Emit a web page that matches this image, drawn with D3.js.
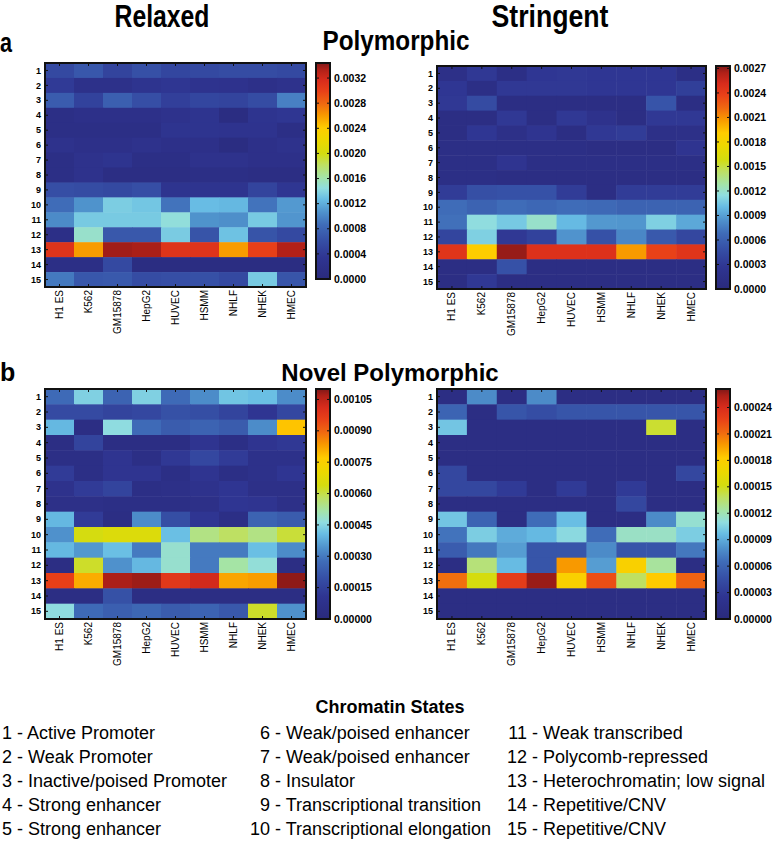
<!DOCTYPE html>
<html>
<head>
<meta charset="utf-8">
<script src="https://cdnjs.cloudflare.com/ajax/libs/d3/7.8.5/d3.min.js"></script>
<style>
  body { margin: 0; background: #fff; }
  svg { display: block; font-family: "Liberation Sans", Arial, sans-serif; }
</style>
</head>
<body>
<svg id="chart" width="778" height="853"></svg>
<script>
var cellLines = ["H1 ES", "K562", "GM15878", "HepG2", "HUVEC", "HSMM", "NHLF", "NHEK", "HMEC"];
var states = ["1", "2", "3", "4", "5", "6", "7", "8", "9", "10", "11", "12", "13", "14", "15"];

// a - Polymorphic, Relaxed
var relaxedPoly = [
  [0.00055, 0.00068, 0.0005, 0.00062, 0.00052, 0.00055, 0.00058, 0.00058, 0.00055],
  [0.0004, 0.00022, 0.00022, 0.0003, 0.00035, 0.00028, 0.00026, 0.0002, 0.00025],
  [0.00072, 0.00048, 0.00075, 0.0006, 0.00045, 0.00052, 0.0005, 0.00058, 0.00097],
  [0.00015, 0.0002, 0.0002, 0.0002, 0.00025, 0.0003, 0.0001, 0.0003, 0.00035],
  [0.00015, 0.00015, 0.00015, 0.00015, 0.0003, 0.0003, 0.00028, 0.00028, 0.00015],
  [0.00025, 0.0002, 0.0002, 0.00025, 0.0002, 0.0002, 0.0001, 0.0002, 0.00025],
  [0.00015, 0.00025, 0.0003, 0.00015, 0.00015, 0.00025, 0.00025, 0.0002, 0.0002],
  [0.00015, 0.00025, 0.00012, 0.00012, 0.00012, 0.00015, 0.00015, 0.00012, 0.00012],
  [0.0006, 0.00058, 0.00055, 0.0006, 0.0003, 0.0003, 0.0003, 0.0005, 0.00035],
  [0.00086, 0.00107, 0.00136, 0.00132, 0.0009, 0.00127, 0.00125, 0.0009, 0.0011],
  [0.00103, 0.00134, 0.00134, 0.00134, 0.00146, 0.00107, 0.00105, 0.00134, 0.00108],
  [0.00017, 0.00151, 0.00069, 0.00069, 0.00135, 0.00065, 0.0013, 0.00065, 0.00055],
  [0.0031, 0.0026, 0.00337, 0.00335, 0.0031, 0.0031, 0.0026, 0.003, 0.00333],
  [0.00015, 0.00015, 0.00055, 0.0001, 0.0001, 0.0001, 0.0001, 0.0001, 0.0001],
  [0.00093, 0.00068, 0.0007, 0.00058, 0.0006, 0.00062, 0.00055, 0.00134, 0.00066]
];

// a - Polymorphic, Stringent
var stringentPoly = [
  [0.00015, 0.0003, 0.00012, 0.00028, 0.0003, 0.00028, 0.00028, 0.00028, 0.00012],
  [0.00028, 0.00012, 0.0003, 0.0003, 0.0003, 0.00028, 0.00028, 0.00028, 0.00035],
  [0.0003, 0.00045, 0.0001, 0.0001, 0.0001, 0.0001, 0.0001, 0.00052, 0.0001],
  [0.0001, 0.0001, 0.0003, 0.0001, 0.0003, 0.0002, 0.0001, 0.0003, 0.0003],
  [0.0001, 0.00028, 0.00015, 0.00025, 0.0001, 0.0003, 0.00033, 0.00015, 0.00015],
  [0.00012, 0.00012, 0.00012, 0.00012, 0.00012, 0.0001, 0.0001, 0.0001, 0.00025],
  [0.00012, 0.00012, 0.00025, 0.00012, 0.00012, 0.00012, 0.00012, 0.00012, 0.00012],
  [0.00012, 0.00012, 0.0001, 0.0001, 0.0001, 0.0001, 0.0001, 0.0001, 0.0001],
  [0.00033, 0.00048, 0.0005, 0.0005, 0.00033, 0.0001, 0.00033, 0.00033, 0.00033],
  [0.00068, 0.00062, 0.00068, 0.00065, 0.00068, 0.00066, 0.00062, 0.00062, 0.00062],
  [0.0007, 0.00115, 0.00106, 0.0012, 0.001, 0.00087, 0.00086, 0.00109, 0.00093],
  [0.0004, 0.00109, 0.0003, 0.00038, 0.00085, 0.0005, 0.0008, 0.00055, 0.00042],
  [0.00245, 0.0019, 0.00269, 0.00248, 0.00248, 0.00248, 0.00207, 0.00237, 0.00245],
  [0.0001, 0.0001, 0.0005, 0.0001, 0.0001, 0.0001, 0.0001, 0.0001, 0.0001],
  [0.0001, 0.0003, 0.0001, 0.0001, 0.0001, 0.0001, 0.0001, 0.0001, 0.0001]
];

// b - Novel Polymorphic, Relaxed
var relaxedNovel = [
  [0.00027, 0.00044, 0.00025, 0.00044, 0.00027, 0.00033, 0.00042, 0.00041, 0.00033],
  [0.00018, 0.00018, 0.00016, 0.00017, 0.0002, 0.00019, 0.00016, 0.00011, 0.00017],
  [0.0004, 0.00004, 0.00046, 0.00027, 0.00023, 0.00025, 0.00023, 0.00033, 0.00078],
  [0.00004, 0.00016, 0.00004, 0.00004, 0.00004, 0.0001, 0.00005, 0.0001, 0.00012],
  [0.00005, 0.00005, 0.0001, 0.00005, 0.00012, 0.00017, 0.00013, 0.00007, 0.00007],
  [0.00013, 0.00005, 0.0001, 0.0001, 0.00005, 0.0001, 0.00005, 0.00007, 0.00011],
  [0.00008, 0.00013, 0.00016, 0.00005, 0.00006, 0.00008, 0.00011, 0.00006, 0.00006],
  [0.00006, 0.00006, 0.00005, 0.00005, 0.00005, 0.00006, 0.00011, 0.0001, 0.00006],
  [0.0004, 0.00013, 0.00004, 0.00033, 0.00019, 0.00011, 0.00005, 0.00025, 0.00023],
  [0.00034, 0.00064, 0.00066, 0.00066, 0.00041, 0.00055, 0.00058, 0.00055, 0.00061],
  [0.0004, 0.00035, 0.00041, 0.0003, 0.00048, 0.0003, 0.0003, 0.00041, 0.00033],
  [0.00004, 0.00062, 0.00034, 0.0004, 0.00048, 0.0003, 0.00052, 0.00047, 0.00004],
  [0.00096, 0.00081, 0.00107, 0.00108, 0.00098, 0.00102, 0.00082, 0.00083, 0.00109],
  [0.00004, 0.00004, 0.0002, 0.00004, 0.00004, 0.00004, 0.00004, 0.00004, 0.00004],
  [0.00046, 0.00027, 0.00024, 0.00026, 0.00023, 0.00025, 0.00022, 0.00062, 0.00034]
];

// b - Novel Polymorphic, Stringent
var stringentNovel = [
  [0.00001, 0.000078, 0.00001, 0.000078, 0.00001, 0.00001, 0.00001, 0.00001, 0.00001],
  [0.00006, 0.00001, 0.00005, 0.000045, 0.00005, 0.00005, 0.00005, 0.00005, 0.00005],
  [0.0001, 0.00001, 0.00001, 0.00001, 0.00001, 0.00001, 0.00001, 0.000146, 0.00001],
  [0.00001, 0.00001, 0.00001, 0.00001, 0.00001, 0.00001, 0.00001, 0.00001, 0.00001],
  [0.00001, 0.00001, 0.00001, 0.00001, 0.00001, 0.00001, 0.00001, 0.00001, 0.00001],
  [0.00004, 0.00001, 0.00001, 0.00001, 0.00001, 0.00001, 0.00001, 0.00001, 0.00004],
  [0.00004, 0.00004, 0.00003, 0.00001, 0.00003, 0.00001, 0.00003, 0.00001, 0.00001],
  [0.00001, 0.00001, 0.00001, 0.00001, 0.00001, 0.00001, 0.00004, 0.00001, 0.00001],
  [0.0001, 0.00006, 0.00001, 0.000065, 0.000097, 0.00001, 0.00001, 0.000078, 0.000113],
  [0.000068, 0.000103, 0.00009, 0.000095, 0.000108, 0.000065, 0.000116, 0.000116, 0.000103],
  [0.000055, 0.00007, 0.000085, 0.00005, 0.00005, 0.000078, 0.00005, 0.00005, 0.00007],
  [0.00001, 0.000133, 0.000096, 0.00005, 0.000198, 0.000085, 0.000178, 0.000125, 0.00001],
  [0.00021, 0.000152, 0.00023, 0.000257, 0.000178, 0.000222, 0.000138, 0.000183, 0.000214],
  [0.00001, 0.00001, 0.00001, 0.00001, 0.00001, 0.00001, 0.00001, 0.00001, 0.00001],
  [0.00001, 0.00001, 0.00001, 0.00001, 0.00001, 0.00001, 0.00001, 0.00001, 0.00001]
];

var relaxedPolyTicks = [0, 0.0004, 0.0008, 0.0012, 0.0016, 0.0020, 0.0024, 0.0028, 0.0032];
var stringentPolyTicks = [0, 0.0003, 0.0006, 0.0009, 0.0012, 0.0015, 0.0018, 0.0021, 0.0024, 0.0027];
var relaxedNovelTicks = [0, 0.00015, 0.00030, 0.00045, 0.00060, 0.00075, 0.00090, 0.00105];
var stringentNovelTicks = [0, 0.00003, 0.00006, 0.00009, 0.00012, 0.00015, 0.00018, 0.00021, 0.00024];

var stateNames = [
  "Active Promoter", "Weak Promoter", "Inactive/poised Promoter", "Strong enhancer", "Strong enhancer",
  "Weak/poised enhancer", "Weak/poised enhancer", "Insulator", "Transcriptional transition", "Transcriptional elongation",
  "Weak transcribed", "Polycomb-repressed", "Heterochromatin; low signal", "Repetitive/CNV", "Repetitive/CNV"
];

var cmapStops = [0, .1, .18, .25, .31, .37, .42, .47, .53, .58, .64, .70, .76, .81, .87, .92, .97, 1];
var cmapColors = ["#2a2a7c", "#2f3592", "#3650a6", "#3f6cb8", "#4f92cc", "#68bde4", "#90dde0", "#a4e4a8",
  "#bfe060", "#d4dc10", "#ecd800", "#ffcc00", "#f89800", "#f06a10", "#e84018", "#d82c1c", "#b02018", "#801818"];
var cmap = d3.scaleLinear().domain(cmapStops).range(cmapColors).interpolate(d3.interpolateRgb).clamp(true);

var svg = d3.select("#chart");
var defs = svg.append("defs");
var grad = defs.append("linearGradient").attr("id", "cbar")
    .attr("x1", 0).attr("y1", 1).attr("x2", 0).attr("y2", 0);
cmapStops.forEach(function(s, i) {
  grad.append("stop").attr("offset", s).attr("stop-color", cmapColors[i]);
});

var panels = [
  { data: relaxedPoly, max: 0.00344, ticks: relaxedPolyTicks, fmt: ".4f", x0: 45, x1: 306, y0: 63, y1: 287, cb1: 279 },
  { data: stringentPoly, max: 0.00273, ticks: stringentPolyTicks, fmt: ".4f", x0: 437, x1: 706, y0: 66, y1: 289, cb1: 289 },
  { data: relaxedNovel, max: 0.0011, ticks: relaxedNovelTicks, fmt: ".5f", x0: 45, x1: 306, y0: 389, y1: 619, cb1: 619 },
  { data: stringentNovel, max: 0.000261, ticks: stringentNovelTicks, fmt: ".5f", x0: 437, x1: 706, y0: 389, y1: 619, cb1: 619 }
];

function drawPanel(p) {
  var g = svg.append("g");
  var x = d3.scaleBand().domain(cellLines).range([p.x0, p.x1]);
  var y = d3.scaleBand().domain(states).range([p.y0, p.y1]);

  var cells = [];
  p.data.forEach(function(row, r) {
    row.forEach(function(v, c) {
      cells.push({ state: states[r], line: cellLines[c], v: v });
    });
  });

  g.selectAll("rect.cell")
      .data(cells)
      .enter().append("rect")
      .attr("class", "cell")
      .attr("x", function(d) { return x(d.line); })
      .attr("y", function(d) { return y(d.state); })
      .attr("width", x.bandwidth() + 0.5)
      .attr("height", y.bandwidth() + 0.5)
      .attr("fill", function(d) { return cmap(d.v / p.max); });

  // inward ticks, matplotlib style
  var t = g.append("g").attr("stroke", "#111").attr("stroke-width", 1);
  states.forEach(function(s) {
    var yy = y(s) + y.bandwidth() / 2;
    t.append("line").attr("x1", p.x0).attr("x2", p.x0 + 3).attr("y1", yy).attr("y2", yy);
    t.append("line").attr("x1", p.x1 - 3).attr("x2", p.x1).attr("y1", yy).attr("y2", yy);
  });
  cellLines.forEach(function(c) {
    var xx = x(c) + x.bandwidth() / 2;
    t.append("line").attr("x1", xx).attr("x2", xx).attr("y1", p.y0).attr("y2", p.y0 + 3);
    t.append("line").attr("x1", xx).attr("x2", xx).attr("y1", p.y1 - 3).attr("y2", p.y1);
  });

  g.append("rect")
      .attr("x", p.x0).attr("y", p.y0)
      .attr("width", p.x1 - p.x0).attr("height", p.y1 - p.y0)
      .attr("fill", "none").attr("stroke", "#111").attr("stroke-width", 2);

  // row labels
  g.selectAll("text.row")
      .data(states)
      .enter().append("text")
      .attr("x", p.x0 - 4)
      .attr("y", function(d) { return y(d) + y.bandwidth() / 2; })
      .attr("dy", "0.35em")
      .attr("text-anchor", "end")
      .style("font-size", "9px")
      .style("font-weight", "bold")
      .text(function(d) { return d; });

  // column labels
  g.selectAll("text.col")
      .data(cellLines)
      .enter().append("text")
      .attr("transform", function(d) {
        return "translate(" + (x(d) + x.bandwidth() / 2) + "," + (p.y1 + 3) + ") rotate(-90)";
      })
      .attr("dy", "0.35em")
      .attr("text-anchor", "end")
      .style("font-size", "10px")
      .text(function(d) { return d; });

  // colorbar
  var cx0 = p.x1 + 10, cw = 14;
  var cy = d3.scaleLinear().domain([0, p.max]).range([p.cb1, p.y0]);
  g.append("rect")
      .attr("x", cx0).attr("y", p.y0)
      .attr("width", cw).attr("height", p.cb1 - p.y0)
      .attr("fill", "url(#cbar)")
      .attr("stroke", "#111").attr("stroke-width", 2);
  var fmt = d3.format(p.fmt);
  p.ticks.forEach(function(v) {
    var yy = cy(v);
    g.append("line").attr("x1", cx0).attr("x2", cx0 + 3).attr("y1", yy).attr("y2", yy)
        .attr("stroke", "#111");
    g.append("line").attr("x1", cx0 + cw - 3).attr("x2", cx0 + cw).attr("y1", yy).attr("y2", yy)
        .attr("stroke", "#111");
    g.append("text")
        .attr("x", cx0 + cw + 4)
        .attr("y", yy)
        .attr("dy", "0.35em")
        .style("font-size", "10.5px")
        .style("font-weight", "bold")
        .text(fmt(v));
  });
}

panels.forEach(drawPanel);

// titles
function title(txt, x, y, size, anchor, len) {
  var el = svg.append("text")
      .attr("x", x).attr("y", y)
      .attr("text-anchor", anchor || "middle")
      .style("font-size", size + "px")
      .style("font-weight", "bold")
      .text(txt);
  if (len) el.attr("textLength", len).attr("lengthAdjust", "spacingAndGlyphs");
  return el;
}
title("Relaxed", 162, 27, 31, "middle", 95);
title("Stringent", 550, 27, 31, "middle", 117);
title("a", 0, 52, 28, "start", 12);
title("Polymorphic", 396, 50, 27, "middle", 147);
title("b", 0, 381, 25, "start");
title("Novel Polymorphic", 390, 381, 24);

// legend
title("Chromatin States", 390, 713, 18);
var legendCols = [12, 270, 527];
stateNames.forEach(function(name, i) {
  var col = Math.floor(i / 5), row = i % 5;
  var tx = legendCols[col];
  var yy = 739 + row * 24;
  svg.append("text")
      .attr("x", tx).attr("y", yy)
      .attr("text-anchor", "end")
      .style("font-size", "18px")
      .text(states[i]);
  svg.append("text")
      .attr("x", tx).attr("y", yy)
      .style("font-size", "18px")
      .style("white-space", "pre")
      .text(" - " + name);
});
</script>
</body>
</html>
